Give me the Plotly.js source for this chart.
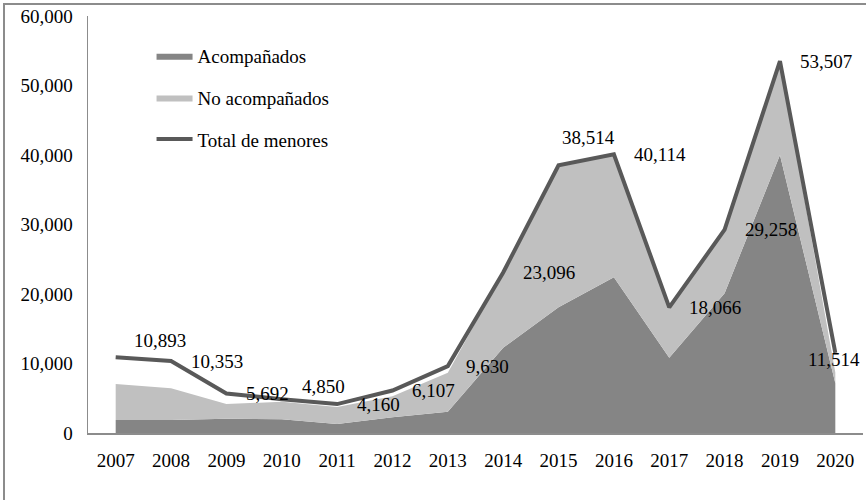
<!DOCTYPE html>
<html>
<head>
<meta charset="utf-8">
<script src="https://cdn.plot.ly/plotly-3.0.1.min.js"></script>
<style>
  html, body { margin: 0; padding: 0; background: #fff; }
  #frame { position: absolute; left: 3px; top: 3px; width: 863px; height: 497px;
           border-left: 2px solid #8c8c8c; border-top: 2px solid #8c8c8c; box-sizing: border-box; }
  #chart { position: absolute; left: 0; top: 0; width: 866px; height: 500px; }
</style>
</head>
<body>
<div id="frame"></div>
<div id="chart"></div>
<script>
// ---- data ----
var years = ['2007','2008','2009','2010','2011','2012','2013','2014','2015','2016','2017','2018','2019','2020'];
var acompanados   = [1870, 1870, 2060, 1970, 1300, 2250, 3070, 12270, 18090, 22400, 10840, 20100, 40000, 7150];
var noAcompanados = [5180, 4560, 2110, 2530, 2440, 3050, 5610, 10826, 20424, 17714, 7226, 9158, 13507, 1550];
var totalMenores  = [10893, 10353, 5692, 4850, 4160, 6107, 9630, 23096, 38514, 40114, 18066, 29258, 53507, 11514];
var seriesNames = ['Acompañados', 'No acompañados', 'Total de menores'];

// label placement (pixels), style only
var labelDx = [16, 18, 18, 18, 18, 18, 16, 18, 1, 18, 18, 18, 18, -1];
var labelDy = [17, 0, 0, 13, 0, 0, 0, 0, 28, 0, 0, 0, 0, -7];
var labelAnchor = ['left','left','left','left','left','left','left','left','left','left','left','left','left','center'];

var FONT = 'Liberation Serif, DejaVu Serif, serif';

var traces = [
  { x: years, y: acompanados, name: seriesNames[0], type: 'scatter', mode: 'lines',
    stackgroup: 'one', line: { width: 0, color: '#858585' }, fillcolor: '#858585',
    legendgroup: 'a' },
  { x: years, y: noAcompanados, name: seriesNames[1], type: 'scatter', mode: 'lines',
    stackgroup: 'one', line: { width: 0, color: '#c0c0c0' }, fillcolor: '#c0c0c0',
    legendgroup: 'b' },
  { x: years, y: totalMenores, name: seriesNames[2], type: 'scatter', mode: 'lines',
    line: { width: 4, color: '#595959' }, legendgroup: 'c' }
];

var annotations = totalMenores.map(function (v, i) {
  return {
    x: i, y: v, xref: 'x', yref: 'y',
    text: v.toLocaleString('en-US'),
    showarrow: false, xanchor: labelAnchor[i], yanchor: 'middle',
    xshift: labelDx[i], yshift: labelDy[i],
    font: { family: FONT, size: 19, color: '#000' }
  };
});

var layout = {
  width: 866, height: 500,
  margin: { l: 88, r: 3, t: 16, b: 67 },
  paper_bgcolor: 'rgba(0,0,0,0)', plot_bgcolor: 'rgba(0,0,0,0)',
  font: { family: FONT, size: 19, color: '#000' },
  showlegend: true,
  legend: { x: 0.082, y: 0.95, xanchor: 'left', yanchor: 'top',
            bgcolor: 'rgba(0,0,0,0)', traceorder: 'grouped', tracegroupgap: 14,
            itemwidth: 36,
            font: { family: FONT, size: 19, color: '#000' } },
  xaxis: { type: 'category', range: [-0.5, 13.5], showgrid: false, zeroline: false,
           showline: true, linecolor: '#8c8c8c', linewidth: 1.5, ticks: '',
           ticklabelstandoff: 10, fixedrange: true },
  yaxis: { range: [0, 60000], dtick: 10000, tickformat: ',', showgrid: false, zeroline: false,
           showline: true, linecolor: '#8c8c8c', linewidth: 1.5, ticks: '',
           ticklabelstandoff: 10, fixedrange: true },
  annotations: annotations
};

Plotly.newPlot('chart', traces, layout, { displayModeBar: false, staticPlot: true });
</script>
</body>
</html>
